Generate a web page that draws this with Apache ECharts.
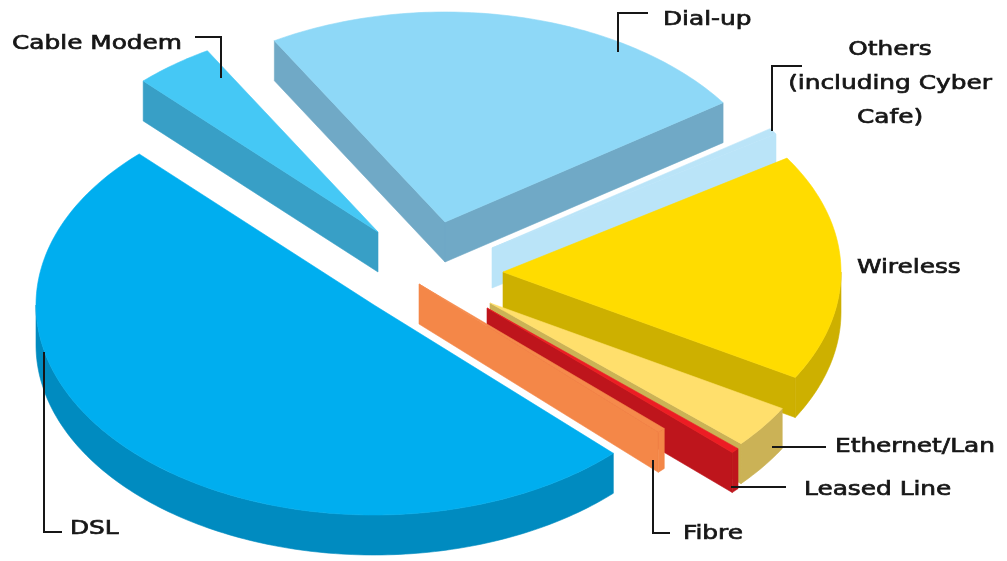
<!DOCTYPE html>
<html><head><meta charset="utf-8">
<script src="https://cdn.jsdelivr.net/npm/echarts@6/dist/echarts.min.js"></script>
<style>html,body{margin:0;padding:0;background:#fff}#c{width:1007px;height:561px}</style>
</head><body><div id="c"></div>
<script>
// ---- data ----
const categories = ['Cable Modem', 'Dial-up', 'Others (including Cyber Cafe)', 'Wireless', 'Ethernet/Lan', 'Leased Line', 'Fibre', 'DSL'];
const shares = [3.8, 23.8, 0.5, 17.5, 3.3, 0.4, 0.4, 50.3];

// ---- styles / layout ----
const topColors  = ['#45C8F5', '#8ED8F7', '#BAE4F8', '#FFDC00', '#FFDF6C', '#ED1C24', '#F58A4B', '#00AEEF'];
const sideColors = ['#389FC6', '#70A9C6', '#BAE4F8', '#CDB000', '#CBB256', '#BE151C', '#F48748', '#008BC0'];
const START_ANGLE = -44;   // degrees, clockwise from 12 o'clock
const RX = 338, RY = 210, DEPTH = 40;
const CENTER = [440, 270];
const explode = [[-62, -38], [5, -48], [52, -22], [63, 2], [50, 33], [47, 38], [-21, 14], [-66, 35]];

const total = shares.reduce((a, b) => a + b, 0);
const prefix = [];
shares.reduce((acc, v, i) => { prefix[i] = acc; return acc + v; }, 0);

function pt(c, deg, dy) {
  const r = deg * Math.PI / 180;
  return [c[0] + RX * Math.sin(r), c[1] - RY * Math.cos(r) + (dy || 0)];
}
function arcPts(c, a, b, dy) {
  const n = Math.max(2, Math.ceil(Math.abs(b - a)));
  const out = [];
  for (let k = 0; k <= n; k++) out.push(pt(c, a + (b - a) * k / n, dy));
  return out;
}

function renderItem(params, api) {
  const i = params.dataIndex;
  const v = api.value(0);
  const a = START_ANGLE + prefix[i] / total * 360;
  const b = a + v / total * 360;
  const c = [CENTER[0] + explode[i][0], CENTER[1] + explode[i][1]];
  const tipB = [c[0], c[1] + DEPTH];
  const side = sideColors[i], top = topColors[i];
  const children = [];
  const sty = (col) => ({ fill: col, stroke: col, lineWidth: 0.6 });
  const ra = a * Math.PI / 180, rb = b * Math.PI / 180;
  // start radial wall
  if (Math.sin(ra) < 0) {
    const p = pt(c, a);
    children.push({ type: 'polygon', shape: { points: [c, p, [p[0], p[1] + DEPTH], tipB] }, style: sty(side) });
  }
  // end radial wall
  if (Math.sin(rb) > 0) {
    const p = pt(c, b);
    children.push({ type: 'polygon', shape: { points: [c, p, [p[0], p[1] + DEPTH], tipB] }, style: sty(side) });
  }
  // outer arc wall (front half)
  const fa = Math.max(a, 90), fb = Math.min(b, 270);
  if (fb > fa) {
    const topArc = arcPts(c, fa, fb, 0);
    const botArc = arcPts(c, fa, fb, DEPTH).reverse();
    children.push({ type: 'polygon', shape: { points: topArc.concat(botArc) }, style: sty(side) });
  }
  // top face
  children.push({ type: 'polygon', shape: { points: [c].concat(arcPts(c, a, b, 0)) }, style: sty(top) });
  return { type: 'group', children: children };
}

// ---- labels ----
const FONT = '20px "DejaVu Sans"';
const SX = 1.24;
const INK = '#161616';
function label(text, x, y, align) {
  return { type: 'text', x: x, y: y, scaleX: SX, z: 10,
    style: { text: text, font: FONT, fill: INK, stroke: INK, lineWidth: 0.7,
             align: align || 'left', verticalAlign: 'middle',
             textAlign: align || 'left', textVerticalAlign: 'middle', lineHeight: 34 } };
}
function leader(points) {
  return { type: 'polyline', z: 10, shape: { points: points }, style: { stroke: INK, lineWidth: 2, fill: null } };
}

const graphics = [
  label(categories[0], 12, 44),
  leader([[195, 37], [221, 37], [221, 78]]),
  label(categories[1], 663, 20),
  leader([[648, 13], [618, 13], [618, 52]]),
  label('Others\n(including Cyber\nCafe)', 890, 84, 'center'),
  leader([[802, 66], [772, 66], [772, 131]]),
  label(categories[3], 857, 268),
  label(categories[4], 835, 447),
  leader([[772, 447], [826, 447]]),
  label(categories[5], 804, 490),
  leader([[731, 487], [786, 487]]),
  label(categories[6], 683, 534),
  leader([[653, 460], [653, 533], [670, 533]]),
  label(categories[7], 70, 529),
  leader([[44, 352], [44, 532], [62, 532]])
];

const chart = echarts.init(document.getElementById('c'), null, { renderer: 'canvas' });
chart.setOption({
  animation: false,
  backgroundColor: '#ffffff',
  series: [{
    type: 'custom',
    coordinateSystem: 'none',
    data: shares.map((v, i) => ({ name: categories[i], value: v })),
    renderItem: renderItem
  }],
  graphic: graphics
});
</script>
</body></html>
